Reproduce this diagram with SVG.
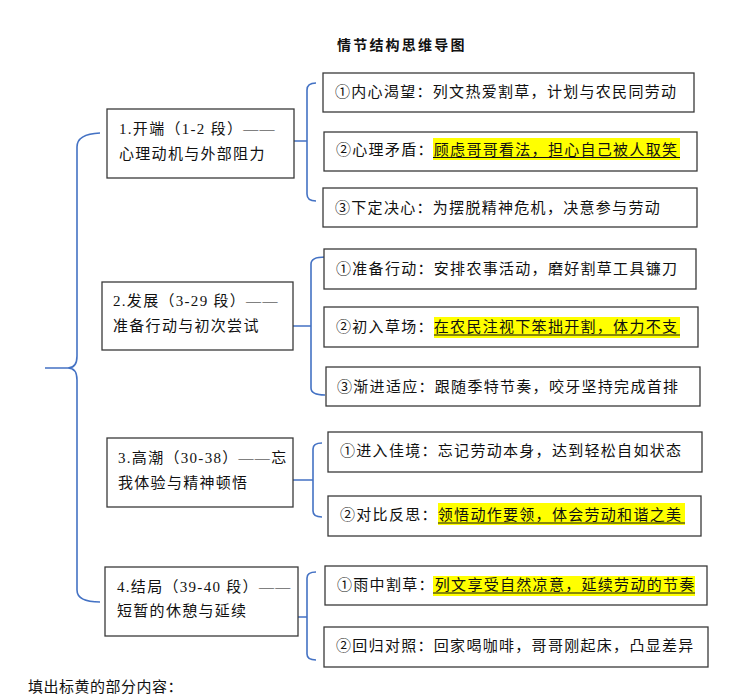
<svg xmlns="http://www.w3.org/2000/svg" width="746" height="700" viewBox="0 0 746 700">
<style>
.bg{fill:#ffffff}
.box{fill:#ffffff;stroke:#3a3a3a;stroke-width:1.3}
.t{font-family:"Liberation Serif","Noto Sans CJK SC",serif;font-size:15px;letter-spacing:1.3px;fill:#111}
.title{font-family:"Noto Sans CJK SC",sans-serif;font-size:14px;font-weight:bold;letter-spacing:2.2px;fill:#111}
.foot{font-family:"Noto Sans CJK SC",serif;font-size:15px;letter-spacing:0.5px;fill:#111}
.hl{fill:#ffff00}
.ul{stroke:#111;stroke-width:1}
.br{fill:none;stroke:#4472c4;stroke-width:1.6}
</style>
<rect class="bg" x="0" y="0" width="746" height="700"/>
<text class="title" x="337" y="50">情节结构思维导图</text>

<g id="connectors">
<path class="br" d="M100,133 Q77,134 77,147 V356 Q77,368 68,368 H45 M68,368 Q77,368 77,380 V590 Q77,602 100,602"/>
<path class="br" d="M316,83 Q307,83 307,90 V194 Q307,201 316,201 M294,141 H307"/>
<path class="br" d="M325,257 Q311,257 311,264 V388 Q311,395 325,395 M293,326 H311"/>
<path class="br" d="M322,443 Q313,443 313,449 V511 Q313,517 322,517 M293,480 H313"/>
<path class="br" d="M316,572 Q307,572 307,578 V654 Q307,660 316,660 M298,617 H307"/>
</g>

<g id="n1">
<rect class="box" x="107" y="109" width="187" height="69"/>
<text class="t" x="119" y="134">1.开端（1-2 段）——</text>
<text class="t" x="119" y="159">心理动机与外部阻力</text>
</g>
<g id="n1a">
<rect class="box" x="323" y="73" width="371" height="39"/>
<text class="t" x="335" y="97">①内心渴望：列文热爱割草，计划与农民同劳动</text>
</g>
<g id="n1b">
<rect class="box" x="324" y="132" width="373" height="39"/>
<rect class="hl" x="433" y="138" width="247" height="22"/>
<line class="ul" x1="433" y1="157.5" x2="680" y2="157.5"/>
<text class="t" x="336" y="155">②心理矛盾：顾虑哥哥看法，担心自己被人取笑</text>
</g>
<g id="n1c">
<rect class="box" x="323" y="188" width="374" height="39"/>
<text class="t" x="335" y="213">③下定决心：为摆脱精神危机，决意参与劳动</text>
</g>

<g id="n2">
<rect class="box" x="102" y="282" width="191" height="68"/>
<text class="t" x="113" y="306">2.发展（3-29 段）——</text>
<text class="t" x="113" y="331">准备行动与初次尝试</text>
</g>
<g id="n2a">
<rect class="box" x="324" y="249" width="372" height="40"/>
<text class="t" x="336" y="274">①准备行动：安排农事活动，磨好割草工具镰刀</text>
</g>
<g id="n2b">
<rect class="box" x="324" y="307" width="374" height="40"/>
<rect class="hl" x="434" y="317" width="246" height="21"/>
<line class="ul" x1="434" y1="335" x2="680" y2="335"/>
<text class="t" x="336" y="332">②初入草场：在农民注视下笨拙开割，体力不支</text>
</g>
<g id="n2c">
<rect class="box" x="326" y="367" width="374" height="39"/>
<text class="t" x="337" y="392">③渐进适应：跟随季特节奏，咬牙坚持完成首排</text>
</g>

<g id="n3">
<rect class="box" x="107" y="438" width="186" height="69"/>
<text class="t" x="118" y="463">3.高潮（30-38）——忘</text>
<text class="t" x="118" y="488">我体验与精神顿悟</text>
</g>
<g id="n3a">
<rect class="box" x="328" y="432" width="374" height="40"/>
<text class="t" x="340" y="456">①进入佳境：忘记劳动本身，达到轻松自如状态</text>
</g>
<g id="n3b">
<rect class="box" x="328" y="496" width="373" height="40"/>
<rect class="hl" x="438" y="503" width="247" height="22"/>
<line class="ul" x1="438" y1="523" x2="685" y2="523"/>
<text class="t" x="340" y="520">②对比反思：领悟动作要领，体会劳动和谐之美</text>
</g>

<g id="n4">
<rect class="box" x="105" y="567" width="193" height="69"/>
<text class="t" x="117" y="592">4.结局（39-40 段）——</text>
<text class="t" x="117" y="616">短暂的休憩与延续</text>
</g>
<g id="n4a">
<rect class="box" x="325" y="566" width="382" height="39"/>
<rect class="hl" x="433" y="576" width="262" height="20"/>
<line class="ul" x1="433" y1="593" x2="695" y2="593"/>
<text class="t" x="337" y="590">①雨中割草：列文享受自然凉意，延续劳动的节奏</text>
</g>
<g id="n4b">
<rect class="box" x="324" y="627" width="384" height="40"/>
<text class="t" x="336" y="651">②回归对照：回家喝咖啡，哥哥刚起床，凸显差异</text>
</g>

<text class="foot" x="28" y="692">填出标黄的部分内容：</text>
</svg>
